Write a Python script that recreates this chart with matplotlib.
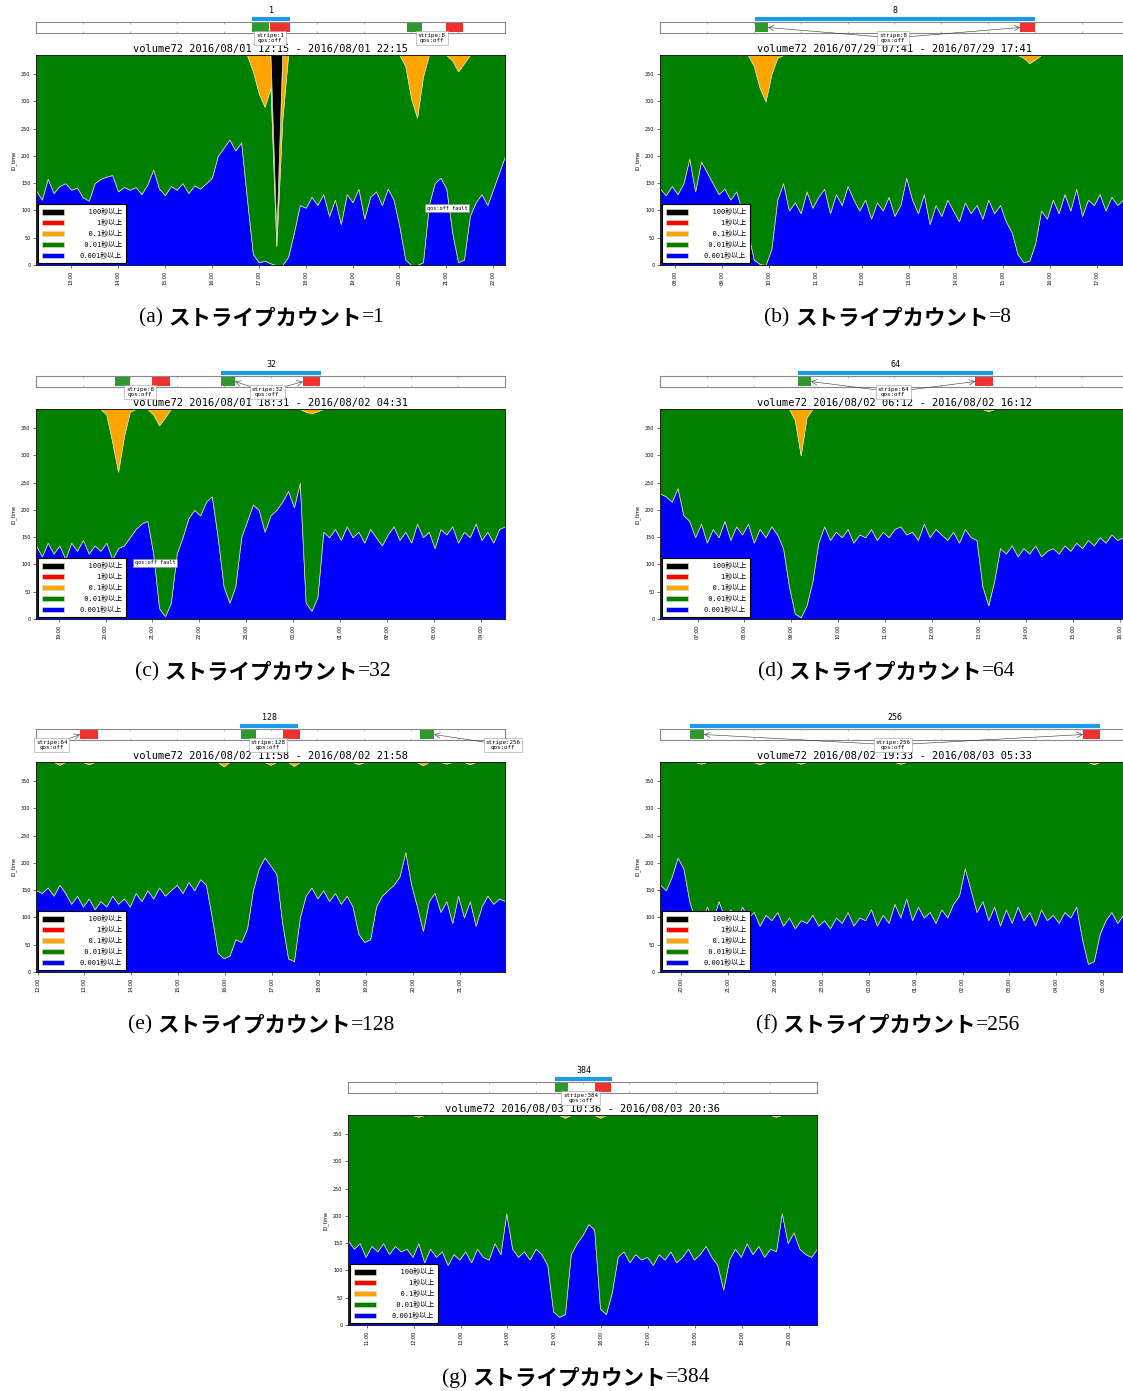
import matplotlib
matplotlib.use('Agg')
import matplotlib.pyplot as plt
import numpy as np

# ---- data (one value every 7.5 minutes over a 10 hour window) ----
STEP_MIN = 7.5
TOTAL = 385

blue_a = [137, 120, 158, 132, 145, 150, 138, 142, 124, 118, 150, 158, 162, 165, 135, 143, 138, 143,
          130, 148, 175, 140, 128, 145, 138, 150, 132, 146, 140, 150, 160,
          200, 215, 230, 210, 225, 120, 20, 5, 8, 3, 0, 0, 15, 60, 110,
          105, 125, 110, 130, 90, 120, 75, 130, 115, 140, 85, 125, 135, 110, 140, 120, 70,
          10, 0, 0, 5, 110, 150, 160, 140, 60, 5, 10, 90, 115, 130, 110, 140, 170, 200]
orange_a = [0] * 37 + [30, 70, 95, 60, 20, 120] + [0] * 20 + [20, 80, 115, 40] + [0] * 4 + [10, 30, 15] + [0] * 7
black_a = [0] * 41 + [330] + [0] * 39

blue_b = [140, 128, 145, 130, 150, 195, 135, 190, 170, 150, 130, 140, 120, 135, 100, 60, 10, 2, 0, 30,
          120, 150, 100, 115, 95, 135, 105, 125, 140, 95, 130, 110, 145, 120, 100, 120, 85, 115, 100, 125,
          90, 110, 160, 120, 95, 130, 75, 110, 90, 120, 100, 80, 115, 95, 110, 85, 120, 95, 110, 80,
          60, 20, 5, 8, 40, 100, 85, 120, 95, 130, 100, 140, 90, 120, 110, 130, 100, 125, 110, 120, 115]
orange_b = [0] * 16 + [20, 60, 85, 35, 5] + [0] * 41 + [5, 15, 8] + [0] * 16
black_b = [0] * 81

blue_c = [135, 115, 140, 120, 135, 110, 140, 125, 145, 120, 135, 125, 140, 110, 130, 135, 150, 165, 175, 180,
          120, 20, 5, 30, 120, 150, 185, 200, 190, 215, 225, 150, 60, 30, 60, 150, 180, 210, 200, 160,
          190, 200, 215, 235, 205, 250, 30, 15, 40, 160, 150, 165, 145, 170, 150, 160, 140, 165, 150, 135,
          155, 170, 145, 160, 140, 175, 150, 160, 130, 165, 155, 170, 140, 160, 150, 175, 145, 160, 140, 165, 170]
orange_c = [0] * 12 + [10, 60, 115, 50, 5] + [0] * 3 + [10, 30, 15] + [0] * 23 + [5, 8, 4] + [0] * 32
black_c = [0] * 81

blue_d = [230, 225, 215, 240, 190, 180, 150, 175, 140, 165, 150, 180, 145, 170, 155, 175, 140, 165, 150, 170,
          155, 130, 60, 10, 3, 25, 70, 140, 170, 145, 160, 150, 165, 140, 155, 150, 165, 145, 160, 150,
          165, 170, 155, 160, 145, 175, 150, 165, 155, 145, 160, 140, 165, 150, 145, 60, 25, 70, 130, 120,
          135, 115, 130, 120, 135, 115, 125, 130, 120, 135, 125, 140, 130, 145, 135, 150, 140, 155, 145, 150, 145]
orange_d = [0] * 23 + [20, 85, 15] + [0] * 30 + [4] + [0] * 24
black_d = [0] * 81

blue_e = [150, 145, 155, 140, 160, 145, 125, 140, 120, 135, 115, 130, 120, 140, 125, 135, 120, 145, 130, 150,
          135, 155, 140, 150, 160, 145, 165, 150, 170, 160, 100, 35, 25, 30, 60, 55, 80, 150, 190, 210,
          195, 180, 90, 25, 20, 100, 140, 155, 135, 150, 130, 145, 125, 140, 120, 70, 55, 60, 120, 140,
          150, 160, 175, 220, 160, 120, 75, 130, 145, 110, 130, 90, 140, 100, 130, 85, 120, 140, 125, 135, 130]
orange_e = [0] * 4 + [5] + [0] * 4 + [4] + [0] * 22 + [8] + [0] * 7 + [5] + [0] * 3 + [7] + [0] * 10 + [4] + [0] * 10 + [6] + [0] * 3 + [3] + [0] * 3 + [4] + [0] * 6
black_e = [0] * 81

blue_f = [160, 150, 175, 210, 190, 130, 95, 90, 120, 95, 130, 100, 115, 90, 120, 100, 110, 85, 105, 95,
          110, 85, 100, 80, 95, 90, 105, 85, 95, 80, 100, 90, 110, 85, 100, 95, 115, 85, 105, 90,
          125, 100, 135, 95, 120, 100, 110, 90, 115, 100, 125, 140, 190, 150, 110, 130, 95, 120, 85, 115,
          90, 120, 95, 110, 85, 115, 95, 105, 90, 110, 100, 120, 60, 15, 20, 70, 95, 110, 90, 105, 100]
orange_f = [0] * 7 + [3] + [0] * 9 + [4] + [0] * 6 + [3] + [0] * 16 + [3] + [0] * 32 + [4] + [0] * 6
black_f = [0] * 81

blue_g = [155, 140, 150, 125, 145, 135, 150, 130, 145, 135, 140, 125, 150, 115, 140, 125, 135, 110, 130, 120,
          135, 115, 140, 125, 120, 150, 130, 205, 140, 125, 135, 120, 140, 130, 110, 25, 15, 20, 130, 150,
          165, 185, 175, 30, 20, 60, 125, 135, 115, 130, 120, 125, 110, 130, 120, 135, 115, 125, 140, 120,
          130, 145, 125, 110, 65, 120, 140, 125, 150, 130, 145, 125, 140, 135, 205, 150, 170, 140, 130, 125, 140]
orange_g = [0] * 12 + [3] + [0] * 24 + [5] + [0] * 5 + [5] + [0] * 29 + [3] + [0] * 7
black_g = [0] * 81

titles = ["volume72 2016/08/01 12:15 - 2016/08/01 22:15",
          "volume72 2016/07/29 07:41 - 2016/07/29 17:41",
          "volume72 2016/08/01 18:31 - 2016/08/02 04:31",
          "volume72 2016/08/02 06:12 - 2016/08/02 16:12",
          "volume72 2016/08/02 11:58 - 2016/08/02 21:58",
          "volume72 2016/08/02 19:33 - 2016/08/03 05:33",
          "volume72 2016/08/03 10:36 - 2016/08/03 20:36"]
stripe_counts = [1, 8, 32, 64, 128, 256, 384]
caption_tags = ["(a)", "(b)", "(c)", "(d)", "(e)", "(f)", "(g)"]
caption_word = "ストライプカウント"
legend_labels = ["  100秒以上", "    1秒以上", "  0.1秒以上", " 0.01秒以上", "0.001秒以上"]

# timeline (percent of the timeline bar): job start (green) / end (red)
tl_green = [[(46.1, 49.7), (79.1, 82.3)], [(20.3, 23.0)], [(16.8, 20.0), (39.4, 42.4)], [(29.4, 32.2)],
            [(43.7, 46.9), (81.9, 84.9)], [(6.4, 9.4)], [(44.1, 46.9)]]
tl_red = [[(49.9, 54.2), (87.4, 91.0)], [(76.8, 80.0)], [(24.7, 28.6), (56.9, 60.6)], [(67.2, 71.0)],
          [(9.4, 13.2), (52.7, 56.3)], [(90.2, 93.8)], [(52.6, 56.1)]]
tl_window = [(46.1, 54.2), (20.3, 80.0), (39.4, 60.8), (29.4, 71.0), (43.5, 55.9), (6.4, 93.8), (44.1, 56.3)]
# (position, stripe, arrow targets)
tl_notes = [[(49.9, 1, []), (84.4, 8, [])],
            [(49.7, 8, [23.0, 76.8])],
            [(22.2, 8, []), (49.3, 32, [42.4, 56.9])],
            [(49.7, 64, [32.2, 67.2])],
            [(3.4, 64, [9.4]), (49.5, 128, []), (99.6, 256, [84.9])],
            [(49.7, 256, [9.4, 90.2])],
            [(49.6, 384, [])]]
# small in-plot notes (minutes, value)
fault_notes = [[(526, 104)], [], [(152, 103)], [], [], [], []]

blues = [blue_a, blue_b, blue_c, blue_d, blue_e, blue_f, blue_g]
oranges = [orange_a, orange_b, orange_c, orange_d, orange_e, orange_f, orange_g]
blacks = [black_a, black_b, black_c, black_d, black_e, black_f, black_g]

# ---- layout ----
W, H = 1123, 1391
fig = plt.figure(figsize=(W / 100, H / 100), dpi=100)
panel_pos = [(36, 55), (660, 55), (36, 409), (660, 409), (36, 762), (660, 762), (348, 1115)]
caption_x = [262, 888, 263, 887, 262, 888, 576]
PW, PH = 469, 210

CJK = ['DejaVu Sans Mono', 'Noto Sans CJK JP']
colors = ['#0000ff', '#008000', '#ffa500', '#ff0000', '#000000']


def px_axes(x0, y0, x1, y1):
    return fig.add_axes([x0 / W, 1 - y1 / H, (x1 - x0) / W, (y1 - y0) / H])


renderer = fig.canvas.get_renderer()

for k in range(7):
    left, top = panel_pos[k]
    blue = np.array(blues[k], float)
    orange = np.array(oranges[k], float)
    black = np.array(blacks[k], float)
    red = np.zeros_like(blue)
    green = TOTAL - blue - orange - red - black
    x = np.arange(len(blue)) * STEP_MIN

    ax = px_axes(left, top, left + PW, top + PH)
    ax.stackplot(x, blue, green, orange, red, black, colors=colors,
                 labels=legend_labels[::-1], edgecolor='#d4dcb0', linewidth=0.5)
    ax.set_xlim(0, 600)
    ax.set_ylim(0, TOTAL)
    ax.set_yticks(range(0, 351, 50))
    hh, mm = map(int, titles[k].split()[2].split(':'))
    first = (60 - mm) % 60
    ticks = np.arange(first, 601, 60)
    ax.set_xticks(ticks)
    ax.set_xticklabels(['%02d:00' % ((hh + 1 + i) % 24) if mm else '%02d:00' % ((hh + i) % 24)
                        for i in range(len(ticks))], rotation=90)
    ax.tick_params(labelsize=3.5, length=2, width=0.4, pad=2)
    ax.set_ylabel('IO_time', fontsize=3.5, labelpad=3)
    for s in ax.spines.values():
        s.set_linewidth(0.6)
    ax.set_title(titles[k], fontsize=7.5, family='DejaVu Sans Mono', pad=2)

    h, l = ax.get_legend_handles_labels()
    leg = ax.legend(h[::-1], l[::-1], loc='lower left', prop={'family': CJK, 'size': 5},
                    handlelength=3.2, handleheight=0.8, labelspacing=0.55, handletextpad=2.2,
                    borderpad=0.6, fancybox=False, framealpha=1, edgecolor='black',
                    borderaxespad=0.3)
    leg.get_frame().set_linewidth(0.8)

    for fx, fy in fault_notes[k]:
        ax.text(fx, fy, 'qos:off fault', fontsize=3.8, ha='center', va='center',
                family='DejaVu Sans Mono',
                bbox=dict(boxstyle='square,pad=0.3', fc='white', ec='#888888', lw=0.4))

    # timeline bar
    tl = px_axes(left, top - 33, left + PW, top - 22)
    tl.set_xlim(0, 100)
    tl.set_ylim(0, 1)
    tl.set_yticks([])
    tl.set_xticks(np.arange(10, 100, 10))
    tl.tick_params(axis='x', direction='in', length=1.5, width=0.4, labelbottom=False,
                   top=True, color='#888888')
    for s in tl.spines.values():
        s.set_color('#888888')
        s.set_linewidth(0.8)
    for g0, g1 in tl_green[k]:
        tl.add_patch(plt.Rectangle((g0, 0.08), g1 - g0, 0.84, color='#2e9a2e', lw=0))
    for r0, r1 in tl_red[k]:
        tl.add_patch(plt.Rectangle((r0, 0.08), r1 - r0, 0.84, color='#f23030', lw=0))
    w0, w1 = tl_window[k]
    tl.plot([w0, w1], [1.3, 1.3], color='#1e9be6', lw=3, solid_capstyle='butt', clip_on=False)
    tl.text((w0 + w1) / 2, 2.05, str(stripe_counts[k]), fontsize=6, family='DejaVu Sans Mono',
            ha='center', va='center')
    for nx, ns, targets in tl_notes[k]:
        for t in targets:
            tl.annotate('', xy=(t, 0.5), xytext=(nx, -0.45),
                        arrowprops=dict(arrowstyle='->', lw=0.4, color='#333333',
                                        shrinkA=0, shrinkB=0), annotation_clip=False)
        tl.text(nx, -0.45, 'stripe:%d\nqos:off' % ns, fontsize=4.2, family='DejaVu Sans Mono',
                ha='center', va='center', linespacing=1.0, zorder=5, clip_on=False,
                bbox=dict(boxstyle='square,pad=0.3', fc='white', ec='#999999', lw=0.4))

    # caption: serif tag, bold gothic word, serif "=N"
    cy = 1 - (top + 263) / H
    serif = ['Liberation Serif', 'DejaVu Serif']
    t1 = fig.text(0, cy, caption_tags[k] + ' ', fontsize=15.5, family=serif, va='center')
    t2 = fig.text(0, cy, caption_word, fontsize=15.5, family=['Noto Sans CJK JP'],
                  weight='bold', va='center')
    t3 = fig.text(0, cy, '=%d' % stripe_counts[k], fontsize=15.5, family=serif, va='center')
    ws = [t.get_window_extent(renderer).width for t in (t1, t2, t3)]
    xpos = caption_x[k] - sum(ws) / 2
    for t, wd in zip((t1, t2, t3), ws):
        t.set_x(xpos / W)
        xpos += wd

fig.savefig('out.png', dpi=100)
